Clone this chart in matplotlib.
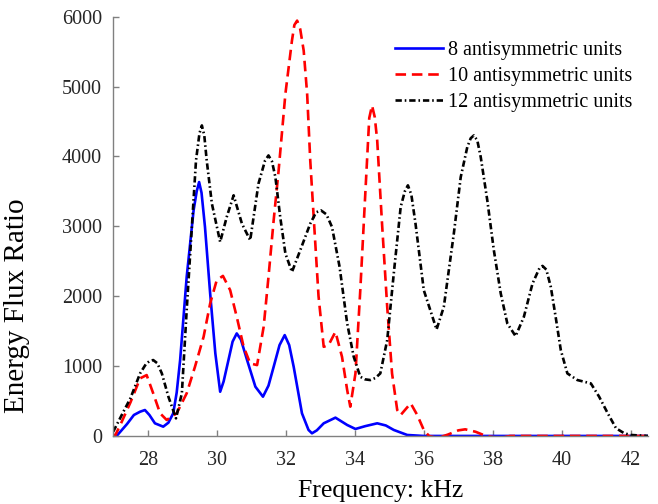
import matplotlib
matplotlib.use("Agg")
import matplotlib.pyplot as plt

# --- values ---

freq_8 = [27.0, 27.1, 27.4, 27.6, 27.78, 27.92, 28.05, 28.21, 28.45, 28.6, 28.74, 28.84,
          28.94, 29.13, 29.33, 29.42, 29.49, 29.56, 29.66, 29.81, 29.96, 30.1, 30.2, 30.34,
          30.46, 30.58, 30.7, 30.88, 31.12, 31.34, 31.5, 31.65, 31.82, 31.97, 32.1, 32.23,
          32.47, 32.66, 32.76, 32.9, 33.1, 33.44, 33.78, 34.02, 34.3, 34.65, 34.9, 35.13,
          35.52, 36.0, 42.5]
flux_8 = [15, 0, 170, 300, 347, 371, 300, 181, 133, 190, 324, 620,
          1086, 2276, 3228, 3500, 3633, 3480, 2990, 2038, 1181, 633, 780, 1086,
          1350, 1467, 1380, 1086, 705, 562, 720, 990, 1300, 1443, 1300, 990,
          324, 86, 38, 80, 181, 262, 157, 100, 140, 181, 150, 86,
          14, 0, 0]

freq_10 = [27.0, 27.05, 27.2, 27.5, 27.78, 27.97, 28.16, 28.36, 28.55, 28.84, 29.13, 29.37,
           29.62, 29.81, 30.0, 30.18, 30.39, 30.58, 30.78, 30.97, 31.17, 31.36, 31.5, 31.65,
           31.79, 31.99, 32.18, 32.25, 32.33, 32.42, 32.52, 32.62, 32.71, 32.81, 32.95, 33.1,
           33.24, 33.44, 33.63, 33.78, 33.87, 34.02, 34.16, 34.31, 34.42, 34.5, 34.58, 34.65,
           34.79, 34.94, 35.08, 35.23, 35.33, 35.62, 35.81, 36.0, 36.15, 36.4, 36.7, 37.0,
           37.2, 37.5, 37.8, 38.2, 38.5, 42.5]
flux_10 = [20, 0, 150, 480, 824, 871, 610, 324, 229, 324, 610, 990,
           1419, 1895, 2228, 2290, 2086, 1705, 1276, 1038, 1014, 1562, 2276, 3086,
           3780, 4895, 5657, 5880, 5943, 5820, 5514, 4895, 3943, 3130, 2000, 1276,
           1300, 1490, 1133, 657, 419, 895, 2086, 3514, 4550, 4728, 4560, 4228,
           3038, 1847, 895, 371, 300, 467, 300, 86, 0, -30, 20, 80,
           95, 60, 0, -30, 0, 0]

freq_12 = [27.0, 27.3, 27.5, 27.78, 27.95, 28.05, 28.16, 28.28, 28.41, 28.6, 28.82, 28.99,
           29.13, 29.28, 29.4, 29.5, 29.57, 29.64, 29.71, 29.86, 30.1, 30.29, 30.49, 30.73,
           30.97, 31.21, 31.4, 31.5, 31.6, 31.7, 31.84, 31.99, 32.18, 32.42, 32.71, 32.88,
           33.02, 33.18, 33.34, 33.56, 33.78, 33.97, 34.16, 34.3, 34.45, 34.6, 34.74, 34.94,
           35.13, 35.33, 35.45, 35.54, 35.64, 35.76, 36.0, 36.37, 36.58, 36.87, 37.07, 37.26,
           37.36, 37.45, 37.55, 37.65, 37.84, 38.03, 38.23, 38.42, 38.66, 38.9, 39.15, 39.35,
           39.44, 39.55, 39.68, 39.82, 39.97, 40.16, 40.45, 40.84, 41.08, 41.33, 41.57, 41.81,
           42.0, 42.5]
flux_12 = [60, 350, 540, 895, 1030, 1070, 1086, 1040, 895, 562, 252, 610,
           1800, 2990, 3943, 4330, 4443, 4300, 3943, 3324, 2776, 3133, 3443, 3038,
           2800, 3610, 3940, 4014, 3930, 3704, 3133, 2610, 2347, 2657, 3038, 3200,
           3228, 3170, 2990, 2420, 1610, 1133, 847, 810, 800, 830, 895, 1371,
           2324, 3276, 3500, 3586, 3450, 3038, 2086, 1524, 1847, 2895, 3704, 4133,
           4260, 4300, 4230, 3990, 3371, 2657, 2038, 1610, 1428, 1705, 2181, 2400,
           2433, 2380, 2133, 1705, 1228, 895, 800, 752, 562, 324, 110, 38,
           14, 0]

x_ticks = [28, 30, 32, 34, 36, 38, 40, 42]
y_ticks = [0, 1000, 2000, 3000, 4000, 5000, 6000]

plt.rcParams['font.family'] = ['Liberation Serif', 'DejaVu Serif']

fig = plt.figure(figsize=(6.58, 5.04), dpi=100)
ax = fig.add_axes([0.172, 0.135, 0.813, 0.832])

ax.plot(freq_8, flux_8, color='#0000ff', lw=1.9, label='8 antisymmetric units')
ax.plot(freq_10, flux_10, color='#ff0000', lw=1.9, dashes=(4, 2.2), label='10 antisymmetric units')
ax.plot(freq_12, flux_12, color='black', lw=1.9, dashes=(2.4, 1.1, 0.6, 1.1), label='12 antisymmetric units')

ax.set_xlim(27, 42.5)
ax.set_ylim(0, 6000)
ax.set_xticks(x_ticks)
ax.set_yticks(y_ticks)

ax.spines['top'].set_visible(False)
ax.spines['right'].set_visible(False)
for s in ['left', 'bottom']:
    ax.spines[s].set_color('#808080')
    ax.spines[s].set_linewidth(1.0)
ax.tick_params(direction='in', length=4, width=1.0, color='#808080',
               labelsize=14.5, labelcolor='#262626')
ax.tick_params(axis='x', pad=11)
ax.tick_params(axis='y', pad=8)

ax.set_xlabel('Frequency: kHz', fontsize=18.5, labelpad=7)
ax.set_ylabel('Energy Flux Ratio', fontsize=21)
ax.yaxis.set_label_coords(-0.155, 0.31)

ax.legend(loc='upper left', bbox_to_anchor=(0.527, 0.943), frameon=False, fontsize=14.5,
          handlelength=2.4, handletextpad=0.25, labelspacing=0.35, borderaxespad=0,
          borderpad=0)

plt.savefig('out.png', dpi=100)
plt.close()
